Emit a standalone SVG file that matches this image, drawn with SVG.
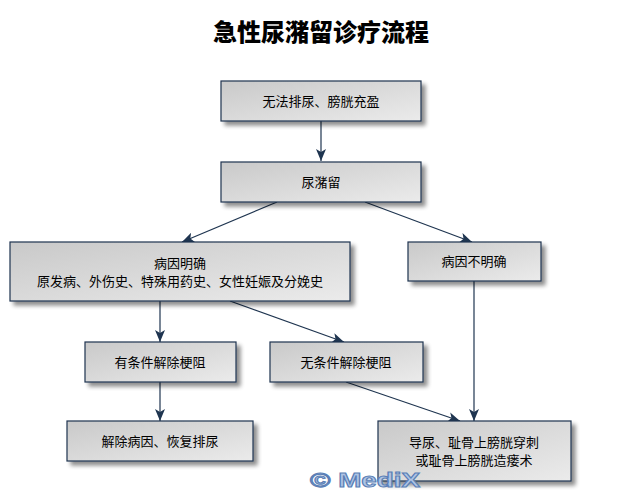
<svg xmlns="http://www.w3.org/2000/svg" width="642" height="490" viewBox="0 0 642 490">
<defs>
<linearGradient id="g" x1="0" y1="0" x2="1" y2="1">
<stop offset="0" stop-color="#c9c9c9"/>
<stop offset="1" stop-color="#ebebeb"/>
</linearGradient>
<filter id="sh" x="-10%" y="-20%" width="130%" height="160%">
<feGaussianBlur in="SourceAlpha" stdDeviation="2"/>
<feOffset dx="4" dy="4" result="b"/>
<feComponentTransfer><feFuncA type="linear" slope="0.45"/></feComponentTransfer>
<feMerge><feMergeNode/><feMergeNode in="SourceGraphic"/></feMerge>
</filter>
<marker id="ah" markerWidth="12" markerHeight="10" refX="12" refY="5" orient="auto" markerUnits="userSpaceOnUse">
<path d="M0,0 L12,5 L0,10 L3,5 Z" fill="#1f3550"/>
</marker>
</defs>
<style>
.box{fill:url(#g);stroke:#1f3550;stroke-width:1.2;filter:url(#sh)}
.t{font-family:"Liberation Sans","Noto Sans CJK SC",sans-serif;font-size:13px;fill:#000;text-anchor:middle}
.c{stroke:#1f3550;stroke-width:1.2;fill:none;marker-end:url(#ah)}
.title{font-family:"Noto Sans CJK SC",sans-serif;font-size:24px;font-weight:900;fill:#000;text-anchor:middle}
.wm{font-family:"Liberation Sans",Arial,sans-serif;font-size:20px;font-weight:bold;fill:#aec4e4;stroke:#5b7fb6;stroke-width:1}
</style>
<rect width="642" height="490" fill="#fff"/>
<text class="title" x="321" y="41">急性尿潴留诊疗流程</text>
<g id="connectors">
<line class="c" x1="321" y1="121" x2="321" y2="161"/>
<line class="c" x1="277" y1="202" x2="182" y2="242"/>
<line class="c" x1="365" y1="202" x2="472" y2="242"/>
<line class="c" x1="160" y1="301" x2="160" y2="342"/>
<line class="c" x1="230" y1="301" x2="344" y2="342"/>
<line class="c" x1="160" y1="382" x2="160" y2="421"/>
<line class="c" x1="346" y1="382" x2="460" y2="421"/>
<line class="c" x1="474" y1="281" x2="474" y2="421"/>
</g>
<g id="n1"><rect class="box" x="221" y="81" width="200" height="40"/><text class="t" x="321" y="106">无法排尿、膀胱充盈</text></g>
<g id="n2"><rect class="box" x="221" y="162" width="200" height="40"/><text class="t" x="321" y="187">尿潴留</text></g>
<g id="n3"><rect class="box" x="10" y="242" width="340" height="59"/><text class="t" x="180" y="268">病因明确</text><text class="t" x="180" y="286">原发病、外伤史、特殊用药史、女性妊娠及分娩史</text></g>
<g id="n4"><rect class="box" x="408" y="242" width="133" height="39"/><text class="t" x="474" y="266">病因不明确</text></g>
<g id="n5"><rect class="box" x="85" y="342" width="151" height="40"/><text class="t" x="160" y="367">有条件解除梗阻</text></g>
<g id="n6"><rect class="box" x="270" y="342" width="153" height="40"/><text class="t" x="346" y="367">无条件解除梗阻</text></g>
<g id="n7"><rect class="box" x="67" y="421" width="186" height="40"/><text class="t" x="160" y="446">解除病因、恢复排尿</text></g>
<g id="n8"><rect class="box" x="378" y="421" width="193" height="60"/><text class="t" x="474" y="447">导尿、耻骨上膀胱穿刺</text><text class="t" x="474" y="465">或耻骨上膀胱造瘘术</text></g>
<text class="wm" x="310" y="487" textLength="110" lengthAdjust="spacingAndGlyphs">© MediX</text>
</svg>
